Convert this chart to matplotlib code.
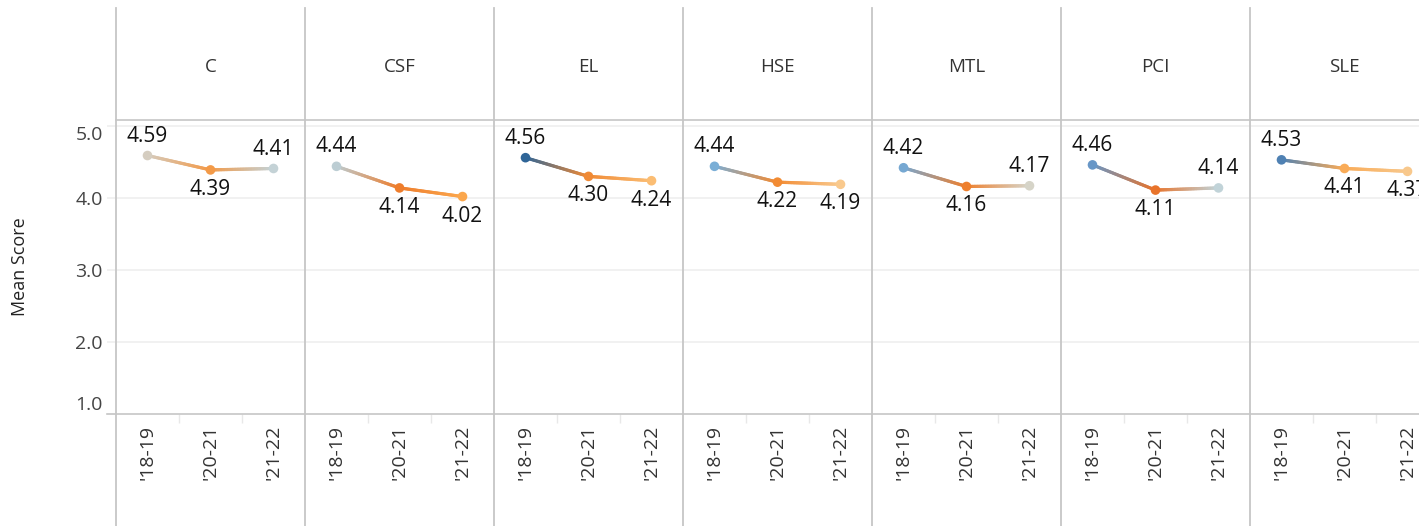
import numpy as np
import matplotlib
matplotlib.use("Agg")
import matplotlib.pyplot as plt
from matplotlib.collections import LineCollection
from matplotlib.lines import Line2D
from matplotlib.colors import to_rgb

## DONNEES ##
categories = ['C', 'CSF', 'EL', 'HSE', 'MTL', 'PCI', 'SLE']
years = ["'18-19", "'20-21", "'21-22"]

score_C = [4.59, 4.39, 4.41]
score_CSF = [4.44, 4.14, 4.02]
score_EL = [4.56, 4.30, 4.24]
score_HSE = [4.44, 4.22, 4.19]
score_MTL = [4.42, 4.16, 4.17]
score_PCI = [4.46, 4.11, 4.14]
score_SLE = [4.53, 4.41, 4.37]
scores = [score_C, score_CSF, score_EL, score_HSE, score_MTL, score_PCI, score_SLE]

# couleur de chaque point (palette divergente orange-bleu)
point_colors = [
    ['#d5cdc0', '#f39a48', '#c4d2d6'],
    ['#bccdd3', '#ee7d2c', '#fba74d'],
    ['#2f6597', '#f08a35', '#fbbd73'],
    ['#7aaed6', '#f28b33', '#f9c98d'],
    ['#76a8d2', '#ee7f2d', '#d6d4c8'],
    ['#6897c7', '#e8732a', '#c1d3d8'],
    ['#4f81b3', '#f9ab57', '#f8c88c'],
]
# étiquette au-dessus (1) ou en-dessous (-1) du point
label_side = [
    [1, -1, 1],
    [1, -1, -1],
    [1, -1, -1],
    [1, -1, -1],
    [1, -1, 1],
    [1, -1, 1],
    [1, -1, -1],
]

## MISE EN PAGE (pixels) ##
W, H = 1419, 526
left0, panel_w = 116, 189
top_head, top_plot, bottom_plot = 8, 120, 414
line_col = '#c6c6c6'
grid_col = '#efefef'
font = 'Open Sans'

fig = plt.figure(figsize=(W / 100, H / 100), dpi=100)


def fx(x):
    return x / W


def fy(y):
    return 1 - y / H


def gradient_line(ax, xs, ys, cols, n=40):
    # segment découpé pour dessiner un dégradé de couleur entre deux points
    segs, segcols = [], []
    for i in range(len(xs) - 1):
        c0, c1 = np.array(to_rgb(cols[i])), np.array(to_rgb(cols[i + 1]))
        t = np.linspace(0, 1, n + 1)
        px = xs[i] + (xs[i + 1] - xs[i]) * t
        py = ys[i] + (ys[i + 1] - ys[i]) * t
        for k in range(n):
            segs.append([(px[k], py[k]), (px[k + 1], py[k + 1])])
            segcols.append(c0 + (c1 - c0) * (k + 0.5) / n)
    lc = LineCollection(segs, colors=segcols, linewidths=2.3, capstyle='round', zorder=3)
    ax.add_collection(lc)


for i, cat in enumerate(categories):
    left = left0 + i * panel_w
    ax = fig.add_axes([fx(left), fy(bottom_plot), panel_w / W, (bottom_plot - top_plot) / H])
    ax.set_xlim(0, 3)
    ax.set_ylim(1.0, 1.0 + (bottom_plot - top_plot) / 72)
    xs = np.arange(len(years)) + 0.5
    ys = scores[i]

    for g in [2, 3, 4, 5]:
        ax.axhline(g, color=grid_col, lw=1.2, zorder=0)

    gradient_line(ax, xs, ys, point_colors[i])
    ax.scatter(xs, ys, s=48, c=point_colors[i], zorder=4, linewidths=0)

    for x, y, s in zip(xs, ys, label_side[i]):
        ax.annotate(f"{y:.2f}", (x, y), xytext=(0, 14 * s), textcoords='offset points',
                    ha='center', va='center', fontsize=15, color='#111111', family=font,
                    annotation_clip=False)

    for sp in ['top', 'right', 'left']:
        ax.spines[sp].set_visible(False)
    ax.spines['bottom'].set_color(line_col)
    ax.spines['bottom'].set_linewidth(1.2)

    ax.set_xticks(xs)
    ax.set_xticklabels(years, rotation=90, va='top', ha='center',
                       fontsize=14, color='#333333', family=font)
    ax.tick_params(axis='x', length=0, pad=8)
    ax.set_xticks([1, 2], minor=True)
    ax.tick_params(axis='x', which='minor', length=6.5, color='#e8e8e8', width=1)

    if i == 0:
        ax.set_yticks([1, 2, 3, 4, 5])
        ax.set_yticklabels(['1.0', '2.0', '3.0', '4.0', '5.0'], fontsize=14,
                           color='#444444', family=font)
        ax.tick_params(axis='y', length=6.5, color=grid_col, width=1.2, pad=3)
        labs = ax.get_yticklabels()
        labs[0].set_va('bottom')
        labs[-1].set_va('top')
    else:
        ax.set_yticks([])

    # en-tête
    fig.text(fx(left + panel_w / 2), fy(67), cat, ha='center', va='center',
             fontsize=13.5, color='#333333', family=font)

# lignes de séparation
for i in range(len(categories) + 1):
    x = left0 + i * panel_w
    fig.add_artist(Line2D([fx(x), fx(x)], [fy(top_head), fy(H)], color=line_col, lw=1.3))
fig.add_artist(Line2D([fx(left0), 1], [fy(top_plot), fy(top_plot)], color=line_col, lw=1.2))
fig.add_artist(Line2D([fx(107), fx(left0)], [fy(bottom_plot), fy(bottom_plot)], color=line_col, lw=1.2))

fig.text(fx(20), fy(267), 'Mean Score', rotation=90, ha='center', va='center',
         fontsize=13, color='#222222', family=font)

fig.savefig('out.png', dpi=100)
